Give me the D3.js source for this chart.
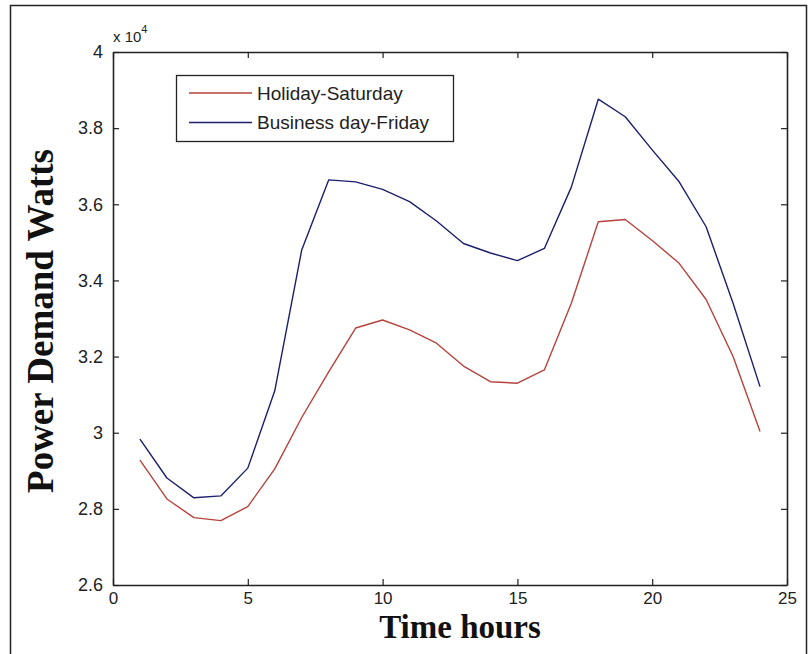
<!DOCTYPE html>
<html>
<head>
<meta charset="utf-8">
<script src="https://cdn.jsdelivr.net/npm/d3@7"></script>
<style>
  html, body { margin: 0; padding: 0; background: #fff; }
  svg { display: block; }
</style>
</head>
<body>
<div id="chart"></div>
<script>
// ---- data (values in watts) ----
const hours = [1,2,3,4,5,6,7,8,9,10,11,12,13,14,15,16,17,18,19,20,21,22,23,24];
const holidaySaturday = [29280,28260,27770,27690,28060,29050,30400,31600,32750,32960,32700,32350,31750,31340,31300,31650,33400,35540,35600,35050,34450,33500,32000,30030];
const businessFriday  = [29830,28810,28290,28340,29070,31100,34800,36640,36590,36390,36070,35560,34970,34720,34520,34840,36450,38760,38300,37430,36590,35410,33400,31210];
const seriesNames = ["Holiday-Saturday", "Business day-Friday"];
const xTicks = [0,5,10,15,20,25];
const yTicks = [26000,28000,30000,32000,34000,36000,38000,40000];
const yTickLabels = ["2.6","2.8","3","3.2","3.4","3.6","3.8","4"];

const W = 809, H = 654;
const m = {left: 113, top: 52, right: 787, bottom: 585};
const colors = ["#b5433d", "#1c1f6b"];

const svg = d3.select("#chart").append("svg").attr("width", W).attr("height", H);
svg.append("rect").attr("width", W).attr("height", H).attr("fill", "#fff");
// outer frame
svg.append("rect").attr("x", 10.5).attr("y", 5.5).attr("width", 796).attr("height", 660)
  .attr("fill", "none").attr("stroke", "#222").attr("stroke-width", 1.5);

const x = d3.scaleLinear().domain([0, 25]).range([m.left, m.right]);
const y = d3.scaleLinear().domain([26000, 40000]).range([m.bottom, m.top]);

const tickFont = "'Liberation Sans', Arial, sans-serif";
const axisColor = "#222";

// axes (MATLAB style, ticks inside, box)
const gx = svg.append("g").attr("transform", `translate(0,${m.bottom})`)
  .call(d3.axisBottom(x).tickValues(xTicks).tickSizeInner(-6).tickSizeOuter(0).tickPadding(10));
const gxTop = svg.append("g").attr("transform", `translate(0,${m.top})`)
  .call(d3.axisTop(x).tickValues(xTicks).tickSizeInner(-6).tickSizeOuter(0).tickFormat(""));
const gy = svg.append("g").attr("transform", `translate(${m.left},0)`)
  .call(d3.axisLeft(y).tickValues(yTicks).tickSizeInner(-6).tickSizeOuter(0).tickPadding(10)
    .tickFormat((d, i) => yTickLabels[i]));
const gyRight = svg.append("g").attr("transform", `translate(${m.right},0)`)
  .call(d3.axisRight(y).tickValues(yTicks).tickSizeInner(-6).tickSizeOuter(0).tickFormat(""));

[gx, gxTop, gy, gyRight].forEach(g => {
  g.selectAll(".domain").attr("stroke", axisColor).attr("stroke-width", 1.6);
  g.selectAll(".tick line").attr("stroke", axisColor).attr("stroke-width", 1.2);
  g.selectAll("text").attr("font-family", tickFont).attr("font-size", 18).attr("fill", "#222");
});
gx.selectAll("text").attr("font-size", 17).attr("dy", "0.35em").attr("y", 13);

// exponent label
const expo = svg.append("text").attr("x", 113).attr("y", 42)
  .attr("font-family", tickFont).attr("font-size", 15).attr("fill", "#222");
expo.append("tspan").text("x 10");
expo.append("tspan").attr("dy", -9).attr("font-size", 11).text("4");

// lines
const line = d3.line().x((d, i) => x(hours[i])).y(d => y(d));
[holidaySaturday, businessFriday].forEach((s, k) => {
  svg.append("path").datum(s).attr("d", line).attr("fill", "none")
    .attr("stroke", colors[k]).attr("stroke-width", 1.4).attr("stroke-linejoin", "round");
});

// legend
const lg = svg.append("g");
lg.append("rect").attr("x", 176.5).attr("y", 75.5).attr("width", 277).attr("height", 66)
  .attr("fill", "#fff").attr("stroke", "#222").attr("stroke-width", 1.3);
seriesNames.forEach((name, k) => {
  const yy = 93 + k * 29.5;
  lg.append("line").attr("x1", 189).attr("x2", 252).attr("y1", yy).attr("y2", yy)
    .attr("stroke", colors[k]).attr("stroke-width", 1.4);
  lg.append("text").attr("x", 257).attr("y", yy).attr("dy", "0.35em")
    .attr("font-family", tickFont).attr("font-size", 19).attr("fill", "#222").text(name);
});

// axis titles
svg.append("text").attr("x", 460).attr("y", 638).attr("text-anchor", "middle")
  .attr("font-family", "'Liberation Serif', 'Times New Roman', serif").attr("font-weight", "bold")
  .attr("font-size", 33).attr("fill", "#111").text("Time hours");
svg.append("text").attr("transform", "translate(53,321) rotate(-90)").attr("text-anchor", "middle")
  .attr("font-family", "'Liberation Serif', 'Times New Roman', serif").attr("font-weight", "bold")
  .attr("font-size", 37).attr("fill", "#111").text("Power Demand Watts");
</script>
</body>
</html>
